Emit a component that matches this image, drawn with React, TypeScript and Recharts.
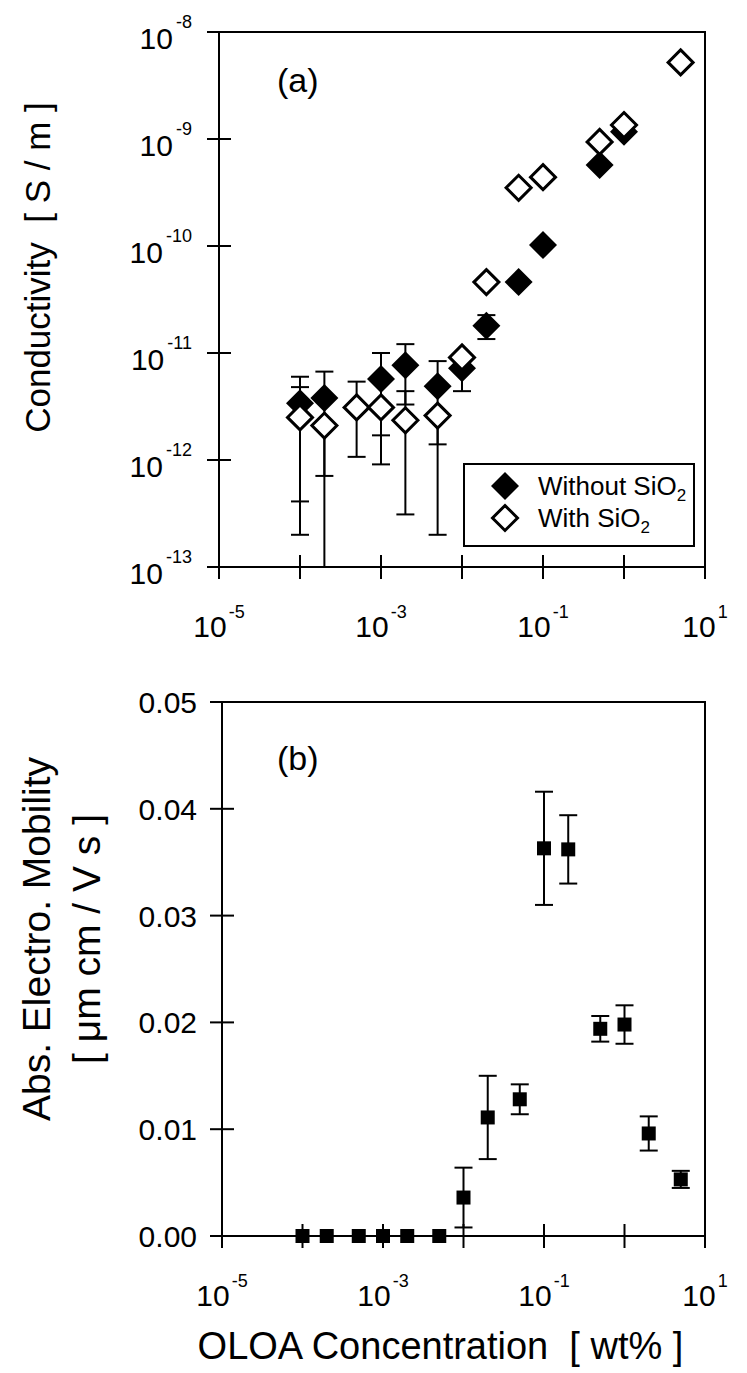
import React from 'react'
import { ScatterChart, Scatter, XAxis, YAxis, ErrorBar, ReferenceArea, Legend } from 'recharts'

const FONT = '"Liberation Sans", Arial, Helvetica, sans-serif'
const INK = '#000'

// OLOA concentration [wt%], shared log axis
const concTicks = [1e-5, 1e-4, 1e-3, 1e-2, 1e-1, 1, 10]
const condTicks = [1e-13, 1e-12, 1e-11, 1e-10, 1e-9, 1e-8]
const mobTicks = [0, 0.01, 0.02, 0.03, 0.04, 0.05]

const seriesNames = ['Without SiO2', 'With SiO2']

// (a) conductivity without silica
const concPlain = [1e-4, 2e-4, 1e-3, 2e-3, 5e-3, 1e-2, 2e-2, 5e-2, 1e-1, 5e-1, 1]
const condPlain = [3.4e-12, 3.8e-12, 5.7e-12, 7.7e-12, 4.9e-12, 7.2e-12, 1.8e-11, 4.6e-11, 1.02e-10, 5.7e-10, 1.17e-9]
const condPlainLo = [4.1e-13, 7.1e-13, 1.7e-12, 3.3e-12, 1.4e-12, 4.4e-12, 1.35e-11, null, null, null, null]
const condPlainHi = [6.0e-12, 6.7e-12, 1.0e-11, 1.21e-11, 8.4e-12, 1.0e-11, 2.26e-11, null, null, null, null]

// (a) conductivity with silica
const concSilica = [1e-4, 2e-4, 5e-4, 1e-3, 2e-3, 5e-3, 1e-2, 2e-2, 5e-2, 1e-1, 5e-1, 1, 5]
const condSilica = [2.5e-12, 2.1e-12, 3.1e-12, 3.1e-12, 2.35e-12, 2.6e-12, 9.1e-12, 4.6e-11, 3.5e-10, 4.4e-10, 9.4e-10, 1.35e-9, 5.2e-9]
const condSilicaLo = [2.0e-13, 1e-13, 1.07e-12, 9.1e-13, 3.1e-13, 2.0e-13, null, null, null, null, null, null, null]
const condSilicaHi = [4.8e-12, 2.1e-12, 5.4e-12, 3.1e-12, 4.4e-12, 2.6e-12, null, null, null, null, null, null, null]

// (b) absolute electrophoretic mobility
const concMob = [1e-4, 2e-4, 5e-4, 1e-3, 2e-3, 5e-3, 1e-2, 2e-2, 5e-2, 1e-1, 2e-1, 5e-1, 1, 2, 5]
const mobility = [0, 0, 0, 0, 0, 0, 0.0036, 0.0111, 0.0128, 0.0363, 0.0362, 0.0194, 0.0198, 0.0096, 0.0053]
const mobilityErr = [0, 0, 0, 0, 0, 0, 0.0028, 0.0039, 0.0014, 0.0053, 0.0032, 0.0012, 0.0018, 0.0016, 0.0008]

const rowsWithBounds = (xs: number[], ys: number[], lo: (number | null)[], hi: (number | null)[]) =>
  xs.map((x, i) => ({
    x,
    y: ys[i],
    err: lo[i] == null ? null : [ys[i] - (lo[i] as number), (hi[i] as number) - ys[i]],
  }))

const plainRows = rowsWithBounds(concPlain, condPlain, condPlainLo, condPlainHi)
const silicaRows = rowsWithBounds(concSilica, condSilica, condSilicaLo, condSilicaHi)
const mobRows = concMob.map((x, i) => ({ x, y: mobility[i], err: mobilityErr[i] }))

const diamondPts = (cx: number, cy: number, r: number) =>
  `${cx},${cy - r} ${cx + r},${cy} ${cx},${cy + r} ${cx - r},${cy}`

const FilledDiamond = (p: any) => <polygon points={diamondPts(p.cx, p.cy, 14)} fill={INK} />
const OpenDiamond = (p: any) => (
  <polygon points={diamondPts(p.cx, p.cy, 12.5)} fill="#fff" stroke={INK} strokeWidth={3} strokeLinejoin="miter" />
)
const Square = (p: any) => <rect x={p.cx - 7} y={p.cy - 7} width={14} height={14} fill={INK} />

const expOf = (v: number) => Math.round(Math.log10(v))

// ticks cross the axis line; only every other decade is labelled on x
function LogXTick({ x, y, payload }: any) {
  const e = expOf(payload.value)
  return (
    <g>
      <line x1={x} x2={x} y1={y - 12} y2={y + 12} stroke={INK} strokeWidth={2} />
      {Math.abs(e) % 2 === 1 && (
        <text x={x} y={y + 70} textAnchor="middle" fontSize={30} fontFamily={FONT} fill={INK}>
          10<tspan dx={2} dy={-19} fontSize={18}>{String(e)}</tspan>
        </text>
      )}
    </g>
  )
}

function LogYTick({ x, y, payload }: any) {
  const e = expOf(payload.value)
  return (
    <g>
      <line x1={x - 12} x2={x + 12} y1={y} y2={y} stroke={INK} strokeWidth={2} />
      <text x={x - 27} y={y + 17} textAnchor="end" fontSize={30} fontFamily={FONT} fill={INK}>
        10<tspan dx={3} dy={-21} fontSize={18}>{String(e)}</tspan>
      </text>
    </g>
  )
}

function LinYTick({ x, y, payload }: any) {
  return (
    <g>
      <line x1={x - 12} x2={x + 12} y1={y} y2={y} stroke={INK} strokeWidth={2} />
      <text x={x - 25} y={y + 11} textAnchor="end" fontSize={30} fontFamily={FONT} fill={INK}>
        {Number(payload.value).toFixed(2)}
      </text>
    </g>
  )
}

const panelTag = (text: string, dx: number, dy: number) => (props: any) => {
  const vb = props.viewBox
  return (
    <text x={vb.x + dx} y={vb.y + dy} fontSize={34} fontFamily={FONT} fill={INK}>
      {text}
    </text>
  )
}

// rotated axis title, one column per line, shifted along the axis by `shift`
const yTitle = (lines: string[], size: number, shift: number) => (props: any) => {
  const vb = props.viewBox
  const cy = vb.y + vb.height / 2 + shift
  return (
    <g>
      {lines.map((t, i) => {
        const bx = 50 + i * 50
        return (
          <text key={t} x={bx} y={cy} transform={`rotate(-90 ${bx} ${cy})`} textAnchor="middle"
            fontSize={size} fontFamily={FONT} fill={INK} style={{ whiteSpace: 'pre' }}>
            {t}
          </text>
        )
      })}
    </g>
  )
}

const xTitle = (props: any) => {
  const vb = props.viewBox
  return (
    <text x={vb.x + vb.width / 2 - 23} y={vb.y + 123} textAnchor="middle" fontSize={38}
      fontFamily={FONT} fill={INK} style={{ whiteSpace: 'pre' }}>
      OLOA Concentration  [ wt% ]
    </text>
  )
}

const withSub = (name: string) => {
  const m = name.match(/^(.*O)2$/)
  if (!m) return name
  return (
    <>
      {m[1]}
      <span style={{ fontSize: 17, position: 'relative', top: 6, lineHeight: 1 }}>2</span>
    </>
  )
}

function KeyBox({ payload }: any) {
  const items = [...(payload || [])].sort(
    (a: any, b: any) => seriesNames.indexOf(a.value) - seriesNames.indexOf(b.value),
  )
  return (
    <div style={{
      width: 232, height: 84, border: `2px solid ${INK}`, boxSizing: 'border-box',
      background: '#fff', position: 'relative', fontFamily: FONT, fontSize: 26, color: INK,
    }}>
      {items.map((p: any, i: number) => (
        <div key={p.value} style={{
          position: 'absolute', left: 25, top: 6 + i * 32, height: 30,
          display: 'flex', alignItems: 'center', whiteSpace: 'nowrap', lineHeight: 1,
        }}>
          <svg width={30} height={30} style={{ display: 'block' }}>
            {p.color === '#fff'
              ? <polygon points={diamondPts(15, 15, 12.5)} fill="#fff" stroke={INK} strokeWidth={3} />
              : <polygon points={diamondPts(15, 15, 14)} fill={INK} />}
          </svg>
          <span style={{ marginLeft: 18 }}>{withSub(p.value)}</span>
        </div>
      ))}
    </div>
  )
}

const axisLine = { stroke: INK, strokeWidth: 2 }
const errStyle = { stroke: INK, strokeWidth: 2 }

export default function App() {
  return (
    <div style={{ position: 'absolute', left: 0, top: 0, width: 747, height: 1373, background: '#fff' }}>
      <div style={{ position: 'absolute', left: 0, top: 0 }}>
        <ScatterChart width={747} height={680} margin={{ top: 32, right: 42, bottom: 0, left: 0 }}>
          <XAxis dataKey="x" type="number" scale="log" domain={[1e-5, 10]} ticks={concTicks}
            interval={0} height={113} tickSize={0} tickMargin={0} tickLine={false}
            axisLine={axisLine} tick={<LogXTick />} />
          <YAxis dataKey="y" type="number" scale="log" domain={[1e-13, 1e-8]} ticks={condTicks}
            interval={0} width={219} tickSize={0} tickMargin={0} tickLine={false}
            axisLine={axisLine} tick={<LogYTick />}
            label={{ content: yTitle(['Conductivity  [ S / m ]'], 35, -32) }} />
          <ReferenceArea x1={1e-5} x2={10} y1={1e-13} y2={1e-8} fill="none" stroke={INK}
            strokeWidth={2} label={{ content: panelTag('(a)', 58, 60) }} />
          <Scatter name={seriesNames[0]} data={plainRows} fill={INK} shape={FilledDiamond}
            isAnimationActive={false}>
            <ErrorBar dataKey="err" direction="y" width={9} {...errStyle} />
          </Scatter>
          <Scatter name={seriesNames[1]} data={silicaRows} fill="#fff" shape={OpenDiamond}
            isAnimationActive={false}>
            <ErrorBar dataKey="err" direction="y" width={9} {...errStyle} />
          </Scatter>
          <Legend layout="horizontal" verticalAlign="middle" align="center" content={<KeyBox />}
            wrapperStyle={{ position: 'absolute', left: 463, top: 463, width: 232, height: 84 }} />
        </ScatterChart>
      </div>
      <div style={{ position: 'absolute', left: 0, top: 680 }}>
        <ScatterChart width={747} height={693} margin={{ top: 22, right: 42, bottom: 0, left: 0 }}>
          <XAxis dataKey="x" type="number" scale="log" domain={[1e-5, 10]} ticks={concTicks}
            interval={0} height={137} tickSize={0} tickMargin={0} tickLine={false}
            axisLine={axisLine} tick={<LogXTick />} label={{ content: xTitle }} />
          <YAxis dataKey="y" type="number" domain={[0, 0.05]} ticks={mobTicks}
            interval={0} width={222} tickSize={0} tickMargin={0} tickLine={false}
            axisLine={axisLine} tick={<LinYTick />}
            label={{ content: yTitle(['Abs. Electro. Mobility', '[ \u03bcm cm / V s ]'], 39, -30) }} />
          <ReferenceArea x1={1e-5} x2={10} y1={0} y2={0.05} fill="none" stroke={INK}
            strokeWidth={2} label={{ content: panelTag('(b)', 55, 68) }} />
          <Scatter name="mobility" data={mobRows} fill={INK} shape={Square} isAnimationActive={false}>
            <ErrorBar dataKey="err" direction="y" width={9} {...errStyle} />
          </Scatter>
        </ScatterChart>
      </div>
    </div>
  )
}
